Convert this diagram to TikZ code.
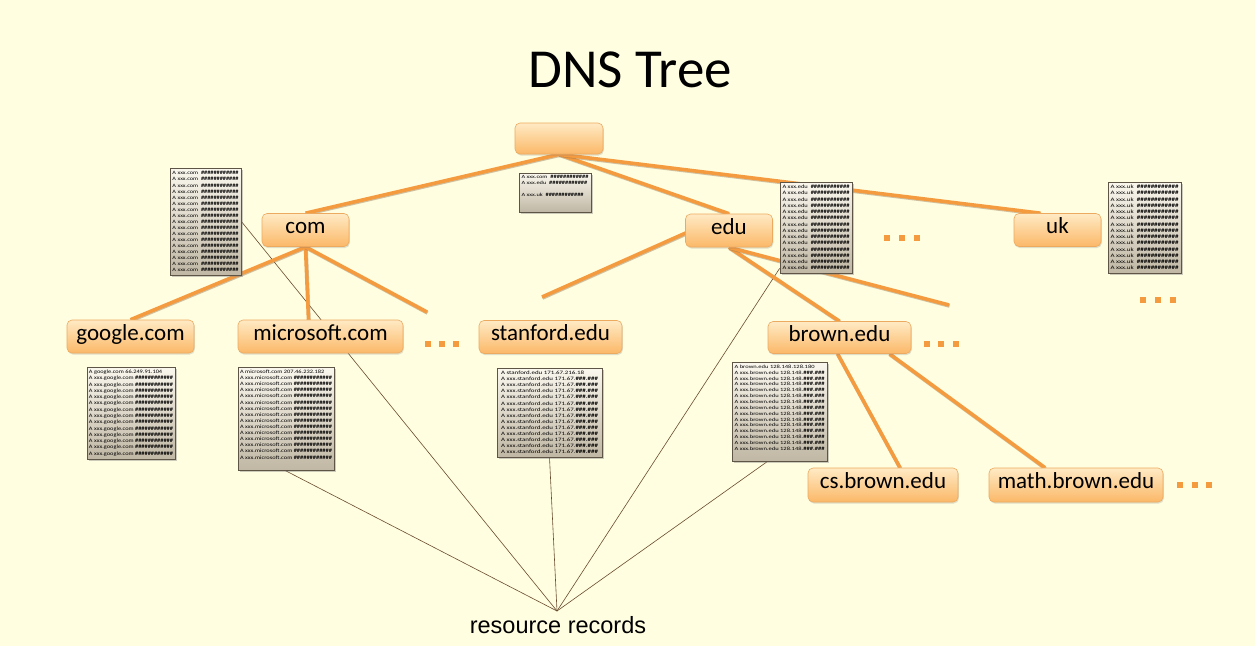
\documentclass[tikz,border=0pt]{standalone}
\usepackage{fontspec}
\usepackage{graphicx}
\setmainfont{Carlito}
\newfontfamily\arialf{Liberation Sans}
\usetikzlibrary{shadows,calc}
\pgfdeclarelayer{bgfill}
\pgfdeclarelayer{edges}
\pgfsetlayers{bgfill,edges,main}
\definecolor{bg}{RGB}{255,254,224}
\definecolor{orline}{RGB}{244,155,64}
\definecolor{orshadow}{RGB}{150,120,85}
\definecolor{ortop}{RGB}{255,234,196}
\definecolor{orbot}{RGB}{251,184,104}
\definecolor{orborder}{RGB}{236,170,96}
\definecolor{rectop}{RGB}{250,247,238}
\definecolor{recbot}{RGB}{192,183,164}
\definecolor{recborder}{RGB}{95,85,70}
\definecolor{thinline}{RGB}{105,75,45}
\ExplSyntaxOn
\newcommand\reclines[2]{\prg_replicate:nn{#1}{\hbox{#2}}}
\ExplSyntaxOff
\newcommand\myhsh{\textbf{\#\#\#\#\#\#\#\#\#\#\#\#}}
\newcommand\recblock[3]{\resizebox*{#1}{#2}{\vbox{\fontsize{5}{6}\selectfont #3}}}
\tikzset{
  onode/.style={rectangle, rounded corners=5pt, draw=orborder, line width=0.6pt,
    top color=ortop, bottom color=orbot, text=black, inner sep=0pt,
    font=\fontsize{23}{24}\selectfont, text height=12pt, text depth=5pt,
    drop shadow={shadow xshift=0.8pt, shadow yshift=-1.5pt, opacity=0.25}},
  recbox/.style={rectangle, draw=recborder, line width=0.8pt, inner sep=0pt,
    top color=rectop, bottom color=recbot, text=black,
    drop shadow={shadow xshift=1.5pt, shadow yshift=-1.5pt, opacity=0.4}},
  oedge/.style={draw=orline, line width=3.6pt,
    preaction={draw=orshadow, line width=3.6pt, opacity=0.45,
      transform canvas={xshift=0.5pt, yshift=-1pt}}},
  rline/.style={draw=thinline, line width=0.6pt},
  odot/.style={rectangle, fill=orline, minimum size=6pt, inner sep=0pt}
}
\begin{document}
\begin{tikzpicture}[x=1pt,y=-1pt]
\useasboundingbox (0,0) rectangle (1255,646);
\begin{pgfonlayer}{bgfill}
\fill[bg] (0,0) rectangle (1255,646);
\end{pgfonlayer}

% title
\node[font=\fontsize{55}{60}\selectfont, anchor=base, inner sep=0pt] (title) at (630,87) {DNS Tree};

% orange nodes
\node[onode, minimum width=88pt, minimum height=31pt] (root) at (559,138.5) {};
\node[onode, minimum width=87pt, minimum height=33pt] (com) at (305.5,230) {com};
\node[onode, minimum width=87pt, minimum height=33pt] (edu) at (729,230.5) {edu};
\node[onode, minimum width=87pt, minimum height=33pt] (uk) at (1057.5,230) {uk};
\node[onode, minimum width=127pt, minimum height=33pt] (google) at (130.5,336.5) {google.com};
\node[onode, minimum width=165pt, minimum height=33pt] (ms) at (320.5,336.5) {microsoft.com};
\node[onode, minimum width=143pt, minimum height=33pt] (stan) at (550.5,337) {stanford.edu};
\node[onode, minimum width=143pt, minimum height=32pt] (brown) at (839.5,337.5) {brown.edu};
\node[onode, minimum width=150pt, minimum height=34pt] (cs) at (883,485) {cs.brown.edu};
\node[onode, minimum width=174pt, minimum height=34pt] (math) at (1076,485) {math.brown.edu};

% record boxes
\node[recbox, minimum width=71pt, minimum height=107pt] (comrec) at (205.5,221.5)
  {\recblock{66pt}{100pt}{\reclines{17}{A xxx.com\ \ \myhsh}}};
\node[recbox, minimum width=72pt, minimum height=39pt] (rootrec) at (555,192.5)
  {\recblock{67pt}{34pt}{\hbox{A xxx.com\ \ \myhsh}\hbox{A xxx.edu\ \ \myhsh}\hbox{}\hbox{A xxx.uk\ \ \myhsh}\hbox{}\hbox{\strut}}};
\node[recbox, minimum width=72pt, minimum height=91pt] (edurec) at (816,227.5)
  {\recblock{67pt}{85pt}{\reclines{14}{A xxx.edu\ \ \myhsh}}};
\node[recbox, minimum width=73pt, minimum height=91pt] (ukrec) at (1144.5,227.5)
  {\recblock{68pt}{85pt}{\reclines{14}{A xxx.uk\ \ \myhsh}}};
\node[recbox, minimum width=88pt, minimum height=92pt] (googlerec) at (131,413)
  {\recblock{84pt}{86pt}{\hbox{A google.com 66.249.91.104}\reclines{13}{A xxx.google.com \myhsh}}};
\node[recbox, minimum width=96pt, minimum height=103pt] (msrec) at (286,418.5)
  {\recblock{92pt}{97pt}{\hbox{A microsoft.com 207.46.232.182}\reclines{14}{A xxx.microsoft.com \myhsh}\hbox{\strut}}};
\node[recbox, minimum width=105pt, minimum height=89pt] (stanrec) at (549.5,412.5)
  {\recblock{97pt}{83pt}{\hbox{A stanford.edu 171.67.216.18}\reclines{13}{A xxx.stanford.edu 171.67.\textbf{\#\#\#.\#\#\#}}}};
\node[recbox, minimum width=95pt, minimum height=99pt] (brownrec) at (779.5,411.5)
  {\recblock{90pt}{93pt}{\hbox{A brown.edu 128.148.128.180}\reclines{14}{A xxx.brown.edu 128.148.\textbf{\#\#\#.\#\#\#}}\hbox{\strut}}};

% free ends
\coordinate (comstub) at (427,312);
\coordinate (edustubl) at (542,297);
\coordinate (edustubr) at (949,305);
\coordinate (rrpt) at (557,611);

\begin{pgfonlayer}{edges}
\draw[rline] (rrpt) -- (comrec.east);
\draw[rline] (rrpt) -- ($(msrec.south)+(-1,0)$);
\draw[rline] (rrpt) -- (stanrec.south);
\draw[rline] (rrpt) -- ($(edurec.south west)+(0,-5)$);
\draw[rline] (rrpt) -- ($(brownrec.south)+(-12,0)$);

\draw[oedge] (root.south) -- (com.north);
\draw[oedge] (root.south) -- (edu.north);
\draw[oedge] (root.south) -- ($(uk.north)+(-17,0)$);
\draw[oedge] (com.south) -- (google.north);
\draw[oedge] (com.south) -- ($(ms.north)+(-12,0)$);
\draw[oedge] (com.south) -- (comstub);
\draw[oedge] (edu.north) -- (edustubl);
\draw[oedge] (edu.south) -- (brown.north);
\draw[oedge] (edu.south) -- (edustubr);
\draw[oedge] ($(brown.south)+(-2,0)$) -- ($(cs.north)+(17,0)$);
\draw[oedge] ($(brown.south)+(50,0)$) -- ($(math.north)+(-31,0)$);
\end{pgfonlayer}

% dots
\foreach \i/\x in {a/428,b/442,c/456} \node[odot] (dm\i) at (\x,344) {};
\foreach \i/\x in {a/887,b/902,c/917} \node[odot] (de\i) at (\x,238) {};
\foreach \i/\x in {a/1143,b/1158,c/1173} \node[odot] (du\i) at (\x,300) {};
\foreach \i/\x in {a/927,b/941,c/956} \node[odot] (db\i) at (\x,344) {};
\foreach \i/\x in {a/1180,b/1195,c/1209} \node[odot] (dh\i) at (\x,485) {};

% label
\node[font=\arialf\fontsize{23.5}{24}\selectfont, anchor=base, inner sep=0pt] (rrlabel) at (558,633) {resource records};
\end{tikzpicture}
\end{document}
